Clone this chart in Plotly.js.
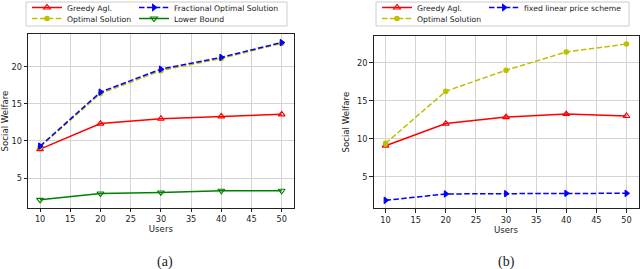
<!DOCTYPE html>
<html>
<head>
<meta charset="utf-8">
<script src="https://cdn.plot.ly/plotly-3.0.1.min.js"></script>
<style>html,body{margin:0;padding:0;background:#fff;}#chart{width:640px;height:269px;}</style>
</head>
<body>
<div id="chart"></div>
<script>
// ---- data ----
const users = [10, 20, 30, 40, 50];
// panel (a)
const greedyA = [8.9, 12.35, 13.0, 13.33, 13.6];
const fractionalA = [9.3, 16.6, 19.7, 21.3, 23.3];
const optimalA = [9.2, 16.4, 19.5, 21.15, 23.2];
const lowerBoundA = [2.05, 2.9, 3.05, 3.28, 3.28];
// panel (b)
const greedyB = [9.1, 12.0, 12.85, 13.25, 13.0];
const optimalB = [9.4, 16.25, 19.0, 21.4, 22.45];
const fixedLinearB = [1.93, 2.76, 2.8, 2.84, 2.85];

const xTicks = [10, 15, 20, 25, 30, 35, 40, 45, 50];
const yTicks = [5, 10, 15, 20];

const RED = '#ff0000', BLUE = '#0000ff', GREEN = '#008000', YEL = '#bfbf00';
const font = 'DejaVu Sans, sans-serif';
const DASH = '5.5px,2.4px';

function tr(x, y, name, color, dash, symbol, size, xa, ya, legend) {
  return {
    x: x, y: y, name: name, type: 'scatter', mode: 'lines+markers',
    line: {color: color, width: 1.5, dash: dash},
    marker: {color: color, symbol: symbol, size: size, line: {color: color, width: 1.1}},
    xaxis: xa, yaxis: ya, legend: legend
  };
}

const data = [
  tr(users, greedyA, 'Greedy Agl.', RED, 'solid', 'triangle-up-open', 6, 'x', 'y', 'legend'),
  tr(users, optimalA, 'Optimal Solution', YEL, DASH, 'circle', 4.5, 'x', 'y', 'legend3'),
  tr(users, fractionalA, 'Fractional Optimal Solution', BLUE, DASH, 'triangle-right', 5.5, 'x', 'y', 'legend5'),
  tr(users, lowerBoundA, 'Lower Bound', GREEN, 'solid', 'triangle-down-open', 6, 'x', 'y', 'legend6'),
  tr(users, greedyB, 'Greedy Agl.', RED, 'solid', 'triangle-up-open', 6, 'x2', 'y2', 'legend2'),
  tr(users, optimalB, 'Optimal Solution', YEL, DASH, 'circle', 4.5, 'x2', 'y2', 'legend4'),
  tr(users, fixedLinearB, 'fixed linear price scheme', BLUE, DASH, 'triangle-right', 5.5, 'x2', 'y2', 'legend7')
];

function xax(domain, anchor) {
  return {
    domain: domain, anchor: anchor, range: [8, 52], tickvals: xTicks,
    showgrid: true, gridcolor: '#d4d4d4', gridwidth: 1,
    showline: true, linecolor: '#222', linewidth: 1, mirror: true,
    ticks: 'outside', ticklen: 3.5, tickcolor: '#222',
    tickfont: {family: font, size: 8.2, color: '#222'},
    title: {text: 'Users', font: {family: font, size: 8.6, color: '#222'}, standoff: 1},
    zeroline: false, automargin: false
  };
}
function yax(domain, anchor, range) {
  return {
    domain: domain, anchor: anchor, range: range, tickvals: yTicks,
    showgrid: true, gridcolor: '#d4d4d4', gridwidth: 1,
    showline: true, linecolor: '#222', linewidth: 1, mirror: true,
    ticks: 'outside', ticklen: 3.5, tickcolor: '#222',
    tickfont: {family: font, size: 8.2, color: '#222'},
    title: {text: 'Social Welfare', font: {family: font, size: 8.6, color: '#222'}, standoff: 5},
    zeroline: false, automargin: false
  };
}
function leg(xpx, ypx) {
  return {
    x: xpx / 640, y: 1 - ypx / 269, xanchor: 'left', yanchor: 'middle', orientation: 'v',
    itemwidth: 30,
    font: {family: font, size: 7.7, color: '#222'},
    bgcolor: 'rgba(0,0,0,0)', borderwidth: 0,
    tracegroupgap: 0, traceorder: 'normal'
  };
}
function box(x0, x1) {
  return {type: 'rect', xref: 'paper', yref: 'paper', x0: x0 / 640, x1: x1 / 640,
    y0: 1 - 26 / 269, y1: 1 - 2 / 269, layer: 'above',
    line: {color: '#cccccc', width: 1}, fillcolor: 'rgba(255,255,255,0.8)'};
}

const layout = {
  width: 640, height: 269,
  margin: {l: 0, r: 0, t: 0, b: 0, pad: 0, autoexpand: false},
  paper_bgcolor: '#fff', plot_bgcolor: '#fff',
  showlegend: true,
  xaxis: xax([0.04375, 0.459], 'y'),
  yaxis: yax([0.2268, 0.8736], 'x', [0.95, 24.45]),
  xaxis2: xax([0.5836, 0.9977], 'y2'),
  yaxis2: yax([0.2257, 0.8662], 'x2', [0.88, 23.5]),
  legend: leg(27, 7.5),
  legend3: leg(27, 18.5),
  legend5: leg(134, 7.5),
  legend6: leg(134, 18.5),
  legend2: leg(377, 7.5),
  legend4: leg(377, 18.5),
  legend7: leg(484, 7.5),
  shapes: [box(26, 287), box(376, 629)],
  annotations: [
    {text: '(a)', x: 0.2578, y: 1 - 262 / 269, xref: 'paper', yref: 'paper', showarrow: false,
     xanchor: 'center', yanchor: 'middle', font: {family: 'Liberation Serif, serif', size: 14, color: '#222'}},
    {text: '(b)', x: 0.792, y: 1 - 262 / 269, xref: 'paper', yref: 'paper', showarrow: false,
     xanchor: 'center', yanchor: 'middle', font: {family: 'Liberation Serif, serif', size: 14, color: '#222'}}
  ]
};

Plotly.newPlot('chart', data, layout, {staticPlot: true});
</script>
</body>
</html>
